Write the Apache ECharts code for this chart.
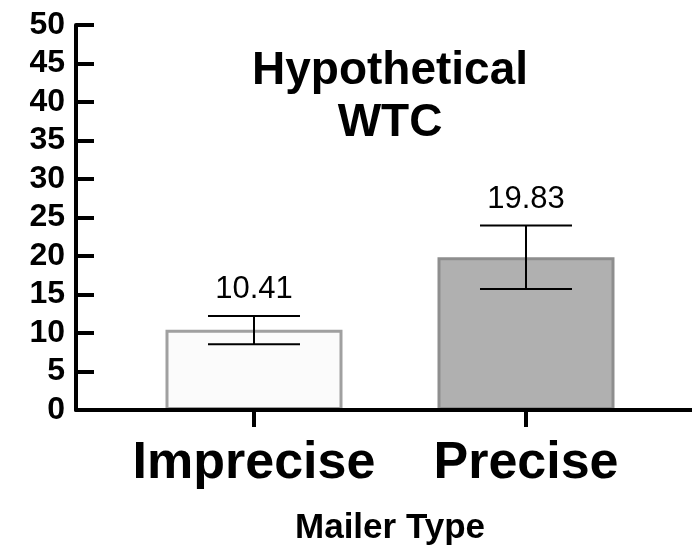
<!DOCTYPE html>
<html>
<head>
<meta charset="utf-8">
<script src="https://cdn.jsdelivr.net/npm/echarts@6/dist/echarts.min.js"></script>
<style>
html,body{margin:0;padding:0;background:#fff;}
#chart{width:692px;height:547px;}
</style>
</head>
<body>
<div id="chart"></div>
<script>
const categories = ['Imprecise', 'Precise'];
const means = [10.41, 19.83];
const errLow = [8.55, 15.7];
const errHigh = [12.2, 23.95];
const barFill = ['#fbfbfb', '#b0b0b0'];
const barBorder = ['#a0a0a0', '#8e8e8e'];
const yTicks = [0, 5, 10, 15, 20, 25, 30, 35, 40, 45, 50];

const FONT = "'Liberation Sans', Arial, Helvetica, sans-serif";
const NARROW = "'Liberation Sans Narrow', 'Arial Narrow', 'Liberation Sans', sans-serif";
const positions = categories.map((c, i) => i + 1);

const chart = echarts.init(document.getElementById('chart'), null, {renderer: 'canvas'});
chart.setOption({
  animation: false,
  backgroundColor: '#fff',
  title: {
    text: 'Hypothetical\nWTC',
    left: 390,
    top: 45,
    padding: 0,
    textAlign: 'center',
    textStyle: {fontFamily: FONT, fontSize: 46, fontWeight: 'bold', color: '#000', lineHeight: 52}
  },
  grid: {left: 76, right: 0, top: 25, bottom: 137, containLabel: false, outerBoundsMode: 'none'},
  xAxis: {
    type: 'value',
    min: 0.3456,
    max: 2.6103,
    z: 5,
    splitLine: {show: false},
    axisLine: {show: true, onZero: false, lineStyle: {color: '#000', width: 4}},
    axisTick: {show: true, inside: false, length: 17, lineStyle: {color: '#000', width: 4}, customValues: positions},
    axisLabel: {
      show: true, margin: 28, customValues: positions,
      formatter: v => categories[Math.round(v) - 1] || '',
      fontFamily: FONT, fontSize: 52, fontWeight: 'bold', color: '#000'
    },
    name: 'Mailer Type',
    nameLocation: 'middle',
    nameGap: 101,
    nameTextStyle: {fontFamily: FONT, fontSize: 35, fontWeight: 'bold', color: '#000', padding: [0, 0, 0, 12]}
  },
  yAxis: {
    type: 'value',
    min: 0,
    max: 50,
    interval: 5,
    z: 5,
    splitLine: {show: false},
    axisLine: {show: true, lineStyle: {color: '#000', width: 4}},
    axisTick: {show: true, inside: true, length: 18, lineStyle: {color: '#000', width: 4}},
    axisLabel: {margin: 11, fontFamily: NARROW, fontSize: 32, fontWeight: 'bold', color: '#000',
      formatter: v => yTicks.includes(v) ? String(v) : ''}
  },
  series: [
    {
      type: 'bar',
      barWidth: 177,
      data: means.map((m, i) => ({
        value: [positions[i], m],
        itemStyle: {color: barFill[i], borderColor: barBorder[i], borderWidth: 3}
      })),
      z: 2
    },
    {
      type: 'custom',
      z: 4,
      data: means.map((m, i) => [positions[i], errLow[i], errHigh[i], m]),
      renderItem: function (params, api) {
        const x = api.value(0), lo = api.value(1), hi = api.value(2), m = api.value(3);
        const pHi = api.coord([x, hi]);
        const pLo = api.coord([x, lo]);
        const hw = 46;
        const st = {stroke: '#000', lineWidth: 2};
        return {
          type: 'group',
          children: [
            {type: 'line', shape: {x1: pHi[0], y1: pHi[1], x2: pLo[0], y2: pLo[1]}, style: st},
            {type: 'line', shape: {x1: pHi[0] - hw, y1: pHi[1], x2: pHi[0] + hw, y2: pHi[1]}, style: st},
            {type: 'line', shape: {x1: pLo[0] - hw, y1: pLo[1], x2: pLo[0] + hw, y2: pLo[1]}, style: st},
            {type: 'text', x: pHi[0], y: pHi[1] - 11,
              style: {text: m.toFixed(2), fill: '#000', font: '31px ' + FONT, align: 'center', verticalAlign: 'bottom'}}
          ]
        };
      }
    }
  ]
});
</script>
</body>
</html>
